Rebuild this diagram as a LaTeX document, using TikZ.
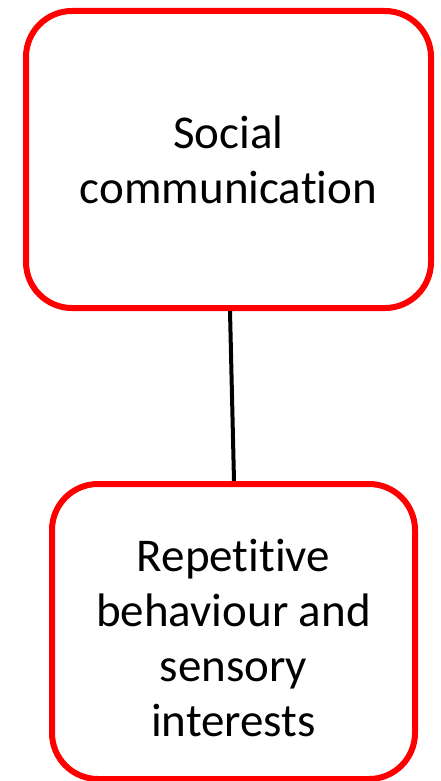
\documentclass[tikz,border=0pt]{standalone}
\usepackage{fontspec}
\setmainfont{Carlito}[Ligatures={NoCommon}]
\begin{document}
\begin{tikzpicture}[x=1pt,y=-1pt,
  redbox/.style={draw=red, line width=6pt, rounded corners=46pt, inner sep=0pt, fill=white},
  boxtext/.style={align=center, font=\fontsize{47}{55}\selectfont, inner sep=0pt},
  link/.style={draw=black, line width=4pt}]
\useasboundingbox (0,0) rectangle (440,781);
\node[redbox, minimum width=405pt, minimum height=297pt] (top) at (228.5,159.5) {};
\node[redbox, minimum width=363pt, minimum height=295pt] (bot) at (233.5,631.5) {};
\node[boxtext] (toptext) at (228.5,160) {Social\\communication};
\node[boxtext] (bottext) at (233.5,638) {Repetitive\\behaviour and\\sensory\\interests};
\draw[link] ([xshift=1.5pt]top.south) -- ([xshift=0.5pt]bot.north);
\end{tikzpicture}
\end{document}
